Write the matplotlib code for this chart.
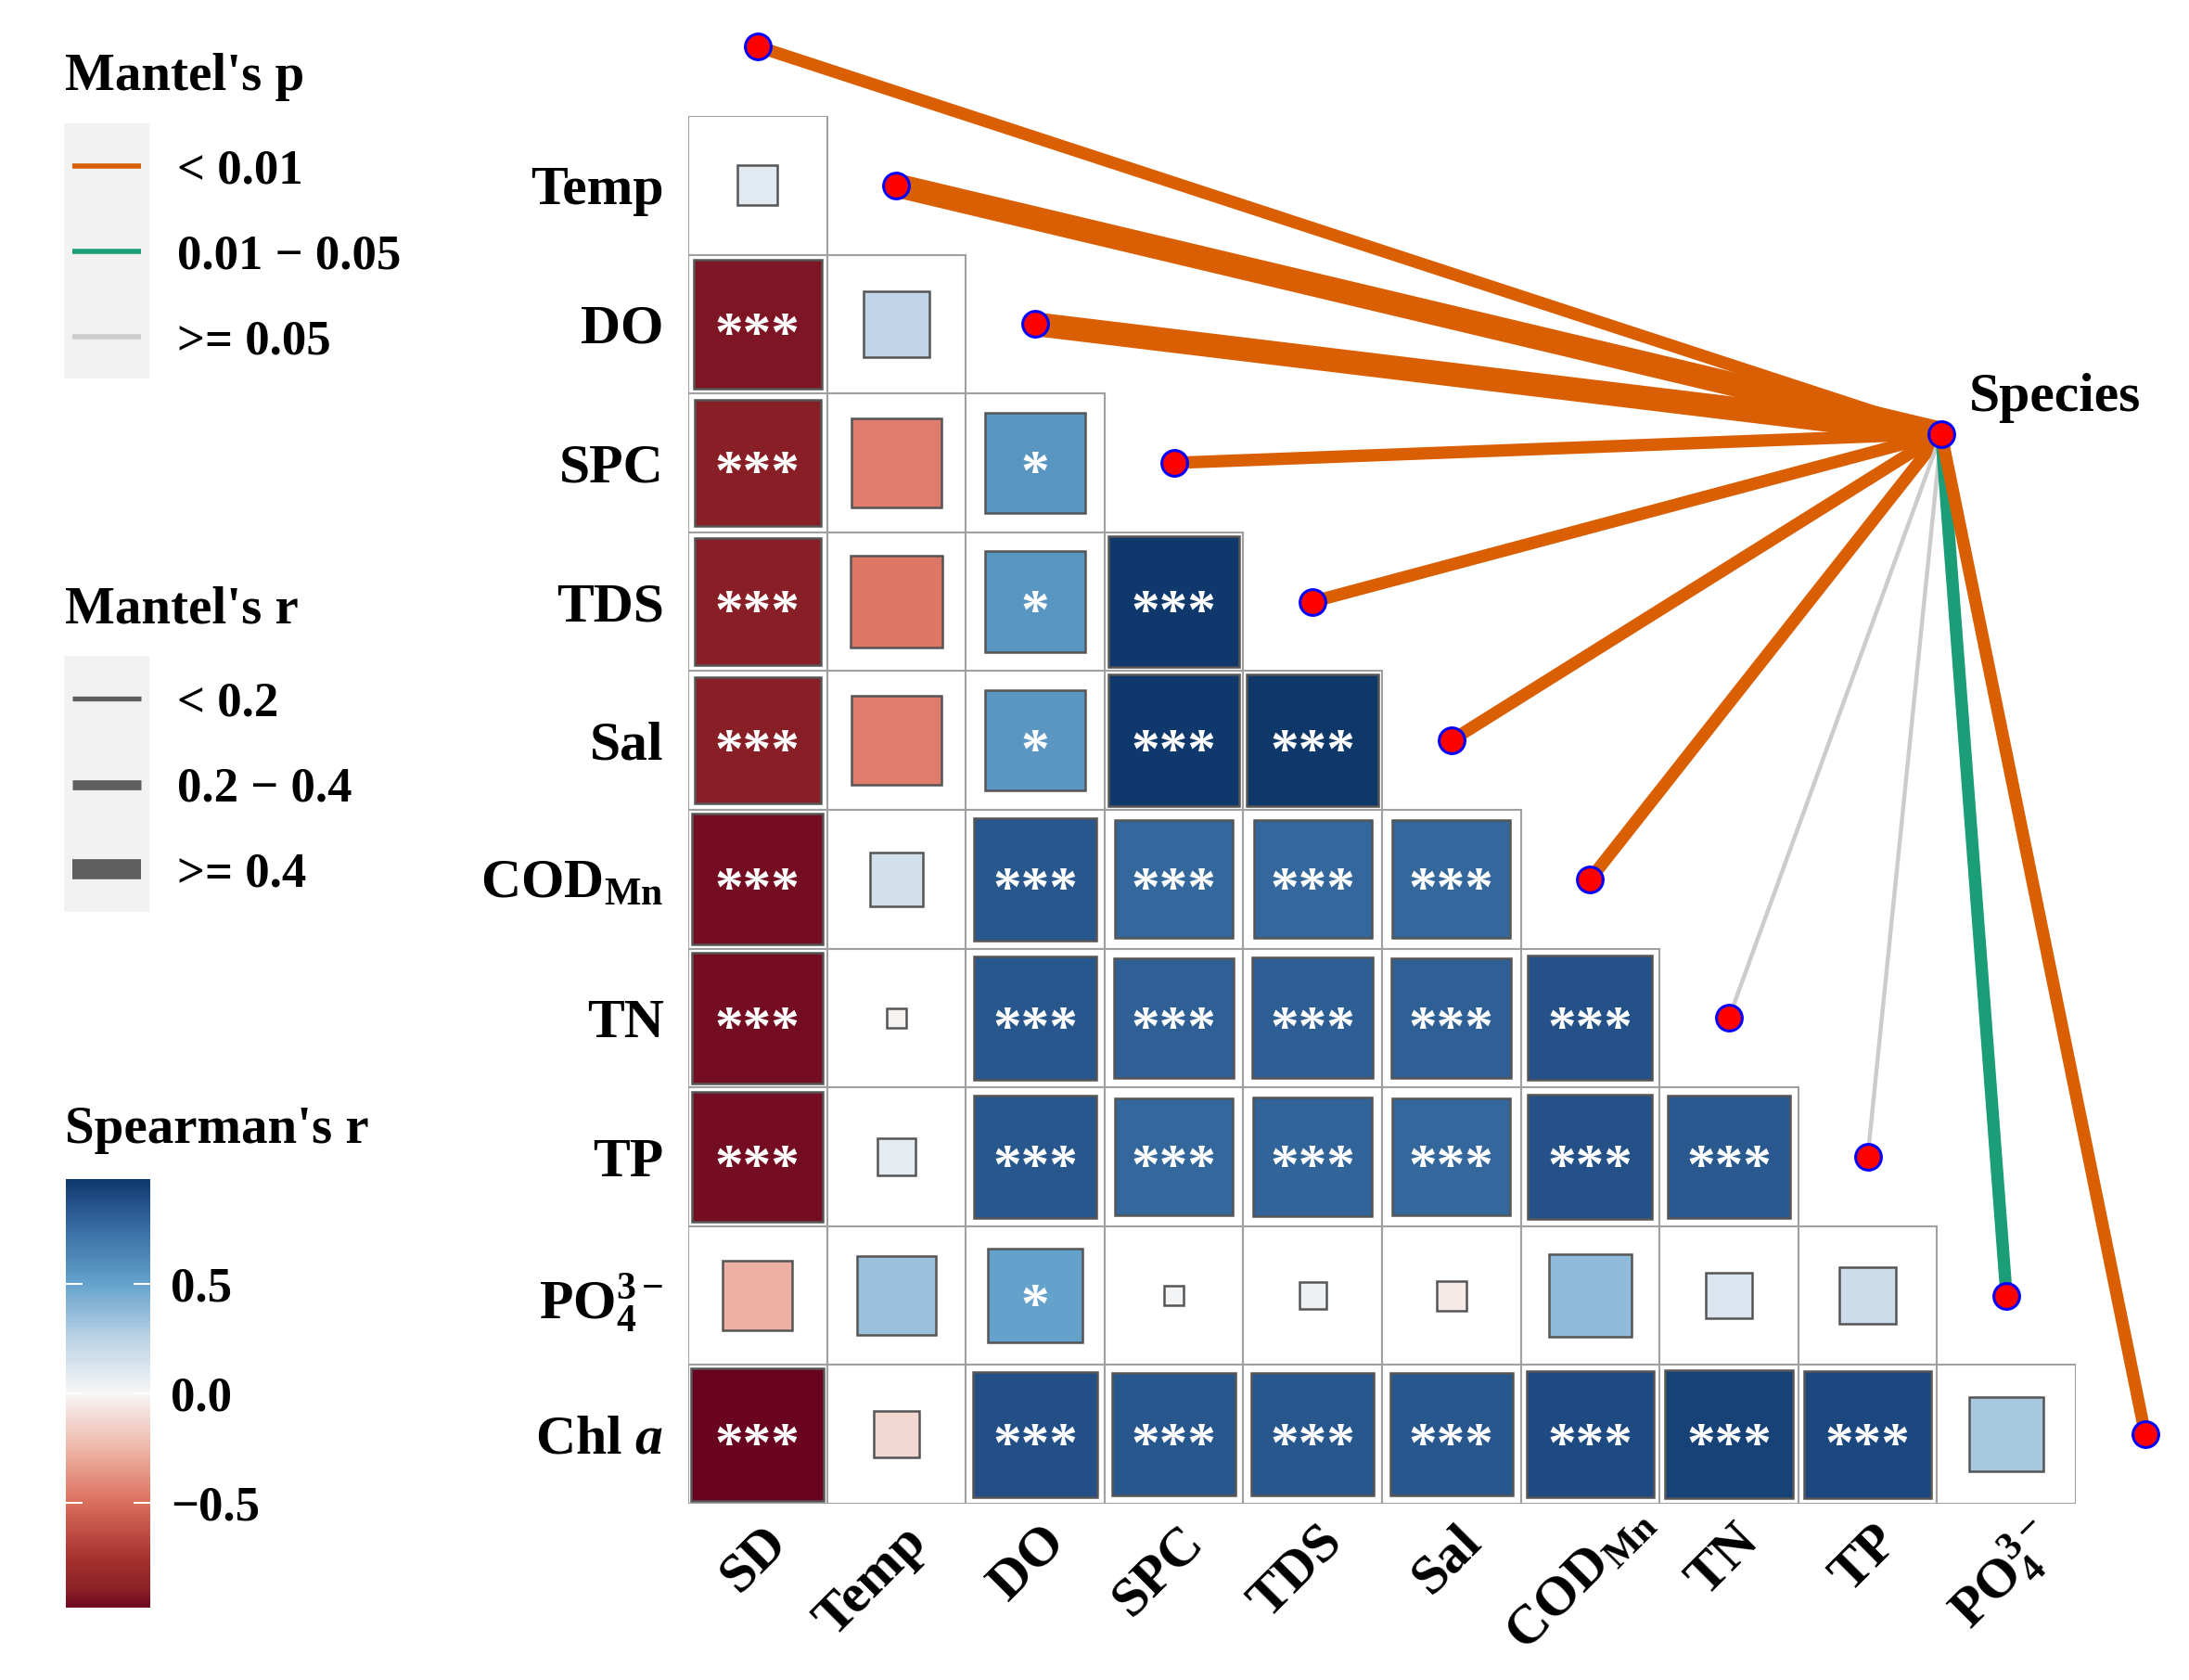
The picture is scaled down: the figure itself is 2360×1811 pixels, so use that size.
import numpy as np
import matplotlib
matplotlib.use('Agg')
import matplotlib.pyplot as plt
from matplotlib.patches import Rectangle
from matplotlib.transforms import ScaledTranslation
from matplotlib.colors import Normalize, LinearSegmentedColormap

plt.rcParams['font.family'] = ['Liberation Serif', 'DejaVu Serif']
plt.rcParams['mathtext.fontset'] = 'custom'
plt.rcParams['mathtext.rm'] = 'Liberation Serif:bold'
plt.rcParams['mathtext.bf'] = 'Liberation Serif:bold'
plt.rcParams['mathtext.it'] = 'Liberation Serif:italic:bold'
plt.rcParams['mathtext.sf'] = 'Liberation Serif:bold'

# ---------------- data ----------------
variables = ['SD', 'Temp', 'DO', 'SPC', 'TDS', 'Sal', 'COD', 'TN', 'TP', 'PO4', 'Chla']
var_labels = ['SD', 'Temp', 'DO', 'SPC', 'TDS', 'Sal', r'$\mathrm{COD}_{\mathrm{Mn}}$',
              'TN', 'TP', r'$\mathrm{PO}_4^{3-}$', r'Chl $\mathit{a}$']

# Spearman's r, lower triangle (row variable vs. earlier variables)
r_Temp = [0.09]
r_DO = [-0.93, 0.24]
r_SPC = [-0.90, -0.45, 0.57]
r_TDS = [-0.90, -0.47, 0.57, 0.97]
r_Sal = [-0.90, -0.45, 0.56, 0.97, 0.98]
r_COD = [-0.96, 0.16, 0.85, 0.78, 0.78, 0.78]
r_TN = [-0.96, -0.02, 0.85, 0.81, 0.82, 0.81, 0.87]
r_TP = [-0.96, 0.08, 0.85, 0.78, 0.79, 0.78, 0.87, 0.84]
r_PO4 = [-0.27, 0.35, 0.50, 0.02, 0.04, -0.05, 0.38, 0.12, 0.18]
r_Chla = [-0.99, -0.12, 0.88, 0.85, 0.85, 0.85, 0.90, 0.93, 0.91, 0.31]

s_Temp = ['']
s_DO = ['***', '']
s_SPC = ['***', '', '*']
s_TDS = ['***', '', '*', '***']
s_Sal = ['***', '', '*', '***', '***']
s_COD = ['***', '', '***', '***', '***', '***']
s_TN = ['***', '', '***', '***', '***', '***', '***']
s_TP = ['***', '', '***', '***', '***', '***', '***', '***']
s_PO4 = ['', '', '*', '', '', '', '', '', '']
s_Chla = ['***', '', '***', '***', '***', '***', '***', '***', '***', '']

r_rows = [r_Temp, r_DO, r_SPC, r_TDS, r_Sal, r_COD, r_TN, r_TP, r_PO4, r_Chla]
s_rows = [s_Temp, s_DO, s_SPC, s_TDS, s_Sal, s_COD, s_TN, s_TP, s_PO4, s_Chla]

# Mantel test: Species vs each variable
mantel_p = ['<0.01', '<0.01', '<0.01', '<0.01', '<0.01', '<0.01', '<0.01',
            '>=0.05', '>=0.05', '0.01-0.05', '<0.01']
mantel_r = ['0.2-0.4', '>=0.4', '>=0.4', '0.2-0.4', '0.2-0.4', '0.2-0.4', '0.2-0.4',
            '<0.2', '<0.2', '0.2-0.4', '0.2-0.4']

p_levels = ['<0.01', '0.01-0.05', '>=0.05']
p_level_labels = ['< 0.01', '0.01 \u2212 0.05', '>= 0.05']
r_levels = ['<0.2', '0.2-0.4', '>=0.4']
r_level_labels = ['< 0.2', '0.2 \u2212 0.4', '>= 0.4']
cbar_ticks = [-0.5, 0.0, 0.5]
cbar_ticklabels = ['\u22120.5', '0.0', '0.5']

# ---------------- styles ----------------
p_colors = {'<0.01': '#D95F02', '0.01-0.05': '#1B9E77', '>=0.05': '#CCCCCC'}
r_widths = {'<0.2': 3.2, '0.2-0.4': 9.6, '>=0.4': 18.5}
r_leg_widths = {'<0.2': 3.8, '0.2-0.4': 7.7, '>=0.4': 15.6}
cmap_stops = [-1.0, -0.9, -0.75, -0.5, -0.25, 0.0, 0.25, 0.5, 0.75, 0.9, 1.0]
cmap_cols = ['#67001F', '#8A2127', '#A8322F', '#DB6F5D', '#EEB7A8', '#F7F7F7',
             '#BDD3E6', '#65A3CD', '#3A6FA3', '#1E4B82', '#0B3466']
cmap = LinearSegmentedColormap.from_list(
    'rdbu_ref', [((s + 1) / 2, c) for s, c in zip(cmap_stops, cmap_cols)], N=256)
norm = Normalize(-1, 1)
xlabel_nudge_px = {6: (36, -22), 9: (16, -8)}

W, H = 2360, 1811
fig = plt.figure(figsize=(W / 100, H / 100), dpi=100)

# main correlation axes (cell units)
gl, gt, cs = 742, 125, 149.6
ax = fig.add_axes([gl / W, (H - gt - 10 * cs) / H, 10 * cs / W, 10 * cs / H])
ax.set_xlim(-0.5, 9.5)
ax.set_ylim(9.5, -0.5)
for sp in ax.spines.values():
    sp.set_visible(False)

for i, (rr, ss) in enumerate(zip(r_rows, s_rows)):
    for j, (r, s) in enumerate(zip(rr, ss)):
        ax.add_patch(Rectangle((j - 0.5, i - 0.5), 1, 1, fc='white', ec='#A0A0A0',
                               lw=1.5, zorder=1))
        side = 0.96 * np.sqrt(abs(r))
        ax.add_patch(Rectangle((j - side / 2, i - side / 2), side, side,
                               fc=cmap(norm(r)), ec='#555555', lw=1.8, zorder=2))
        if s:
            ax.text(j, i + 0.19, s, ha='center', va='baseline', color='white',
                    fontsize=44, fontweight='bold', zorder=3)

ax.set_yticks(range(10))
ax.set_yticklabels(var_labels[1:], fontsize=43, fontweight='bold')
ax.set_xticks(range(10))
ax.set_xticklabels(var_labels[:10], fontsize=43, fontweight='bold', rotation=45,
                   ha='right', va='top', rotation_mode='anchor')
ax.tick_params(axis='y', length=0, pad=19)
ax.tick_params(axis='x', length=0, pad=10)
for k, lab in enumerate(ax.get_xticklabels()):
    dx, dy = xlabel_nudge_px.get(k, (0, 0))
    lab.set_transform(lab.get_transform() +
                      ScaledTranslation((5 + dx) / 100, -dy / 100, fig.dpi_scale_trans))

# Mantel links
species_xy = (8.53, 1.79)
node_x = np.arange(len(variables))
node_y = node_x - 1
for k in range(len(variables)):
    ax.plot([species_xy[0], node_x[k]], [species_xy[1], node_y[k]],
            color=p_colors[mantel_p[k]], lw=r_widths[mantel_r[k]],
            solid_capstyle='butt', clip_on=False, zorder=4)
ax.plot(node_x, node_y, 'o', ms=20, mfc='red', mec='blue', mew=2.2,
        clip_on=False, zorder=5, ls='none')
ax.plot([species_xy[0]], [species_xy[1]], 'o', ms=20, mfc='red', mec='blue', mew=2.2,
        clip_on=False, zorder=6)
ax.text(species_xy[0] + 0.2, species_xy[1] - 0.255, 'Species', ha='left', va='center',
        fontsize=43, fontweight='bold', zorder=6)

# legends (pixel-coordinate overlay)
lax = fig.add_axes([0, 0, 1, 1])
lax.set_xlim(0, W)
lax.set_ylim(H, 0)
lax.axis('off')
lax.patch.set_visible(False)

lax.text(70, 97, "Mantel's p", fontsize=41, fontweight='bold', va='baseline', ha='left')
lax.add_patch(Rectangle((69, 133), 92, 275, fc='#F2F2F2', ec='none'))
for lv, lbl, yy in zip(p_levels, p_level_labels, [179, 271, 363]):
    lax.plot([78, 152], [yy, yy], color=p_colors[lv], lw=4, solid_capstyle='butt')
    lax.text(191, yy + 18, lbl, fontsize=38, fontweight='bold', va='baseline', ha='left')

lax.text(70, 672, "Mantel's r", fontsize=41, fontweight='bold', va='baseline', ha='left')
lax.add_patch(Rectangle((69, 707), 92, 276, fc='#F2F2F2', ec='none'))
for lv, lbl, yy in zip(r_levels, r_level_labels, [753, 846, 937]):
    lax.plot([78, 152], [yy, yy], color='#5E5E5E', lw=r_leg_widths[lv], solid_capstyle='butt')
    lax.text(191, yy + 18, lbl, fontsize=38, fontweight='bold', va='baseline', ha='left')

lax.text(70, 1232, "Spearman's r", fontsize=41, fontweight='bold', va='baseline', ha='left')

# colour bar
cb_lim = 0.975
cax = fig.add_axes([71 / W, (H - 1733) / H, 91 / W, 462 / H])
grad = np.linspace(-cb_lim, cb_lim, 400)
cax.imshow(grad[:, None], extent=[0, 1, -cb_lim, cb_lim], origin='lower',
           aspect='auto', cmap=cmap, norm=norm, interpolation='bilinear')
cax.set_xlim(0, 1)
cax.set_ylim(-cb_lim, cb_lim)
for sp in cax.spines.values():
    sp.set_visible(False)
cax.set_xticks([])
cax.yaxis.set_ticks_position('both')
cax.set_yticks(cbar_ticks)
cax.set_yticklabels(cbar_ticklabels)
cax.tick_params(axis='y', direction='in', length=13, width=1.5, color='white', left=True,
                right=True, labelleft=False, labelright=True, pad=16, labelsize=38)
for t in cax.get_yticklabels():
    t.set_fontweight('bold')

fig.savefig('out.png', dpi=100, facecolor='white')
